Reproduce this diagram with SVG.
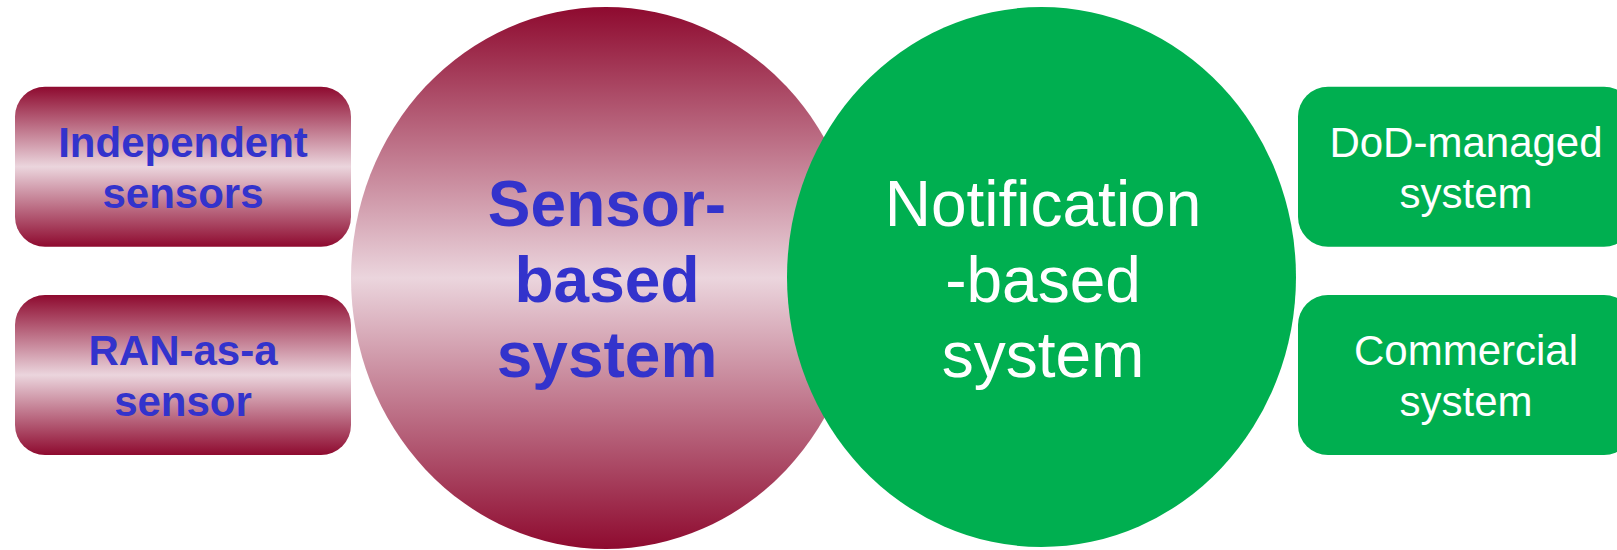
<svg xmlns="http://www.w3.org/2000/svg" width="1617" height="550" viewBox="0 0 1617 550">
<style>
.bt{font-family:"Liberation Sans",Arial,sans-serif;font-weight:bold;fill:#3333CC;text-anchor:middle}
.wt{font-family:"Liberation Sans",Arial,sans-serif;fill:#FFFFFF;text-anchor:middle}
.green{fill:#00AF50}
</style>
<defs>
<linearGradient id="redg" x1="0" y1="0" x2="0" y2="1">
<stop offset="0" stop-color="#8E0A2F"/>
<stop offset="0.5" stop-color="#EBD5DD"/>
<stop offset="1" stop-color="#8E0A2F"/>
</linearGradient>
</defs>
<g id="sensor-based">
<ellipse cx="606" cy="278" rx="255" ry="271" fill="url(#redg)"/>
<text class="bt" font-size="64"><tspan x="607" y="226">Sensor-</tspan><tspan x="607" y="302">based</tspan><tspan x="607" y="377">system</tspan></text>
</g>
<g id="notification-based">
<ellipse class="green" cx="1041.5" cy="277" rx="254.5" ry="270"/>
<text class="wt" font-size="64"><tspan x="1043" y="226">Notification</tspan><tspan x="1043" y="302">-based</tspan><tspan x="1043" y="377">system</tspan></text>
</g>
<g id="independent-sensors">
<rect x="15" y="86.7" width="336" height="160" rx="30" fill="url(#redg)"/>
<text class="bt" font-size="42"><tspan x="183" y="157">Independent</tspan><tspan x="183" y="208">sensors</tspan></text>
</g>
<g id="ran-as-a-sensor">
<rect x="15" y="295" width="336" height="160" rx="30" fill="url(#redg)"/>
<text class="bt" font-size="42"><tspan x="183" y="365">RAN-as-a</tspan><tspan x="183" y="416">sensor</tspan></text>
</g>
<g id="dod-managed">
<rect class="green" x="1298" y="86.7" width="336" height="160" rx="30"/>
<text class="wt" font-size="42"><tspan x="1466" y="157">DoD-managed</tspan><tspan x="1466" y="208">system</tspan></text>
</g>
<g id="commercial">
<rect class="green" x="1298" y="295" width="336" height="160" rx="30"/>
<text class="wt" font-size="42"><tspan x="1466" y="365">Commercial</tspan><tspan x="1466" y="416">system</tspan></text>
</g>
<g id="connectors"/>
</svg>
